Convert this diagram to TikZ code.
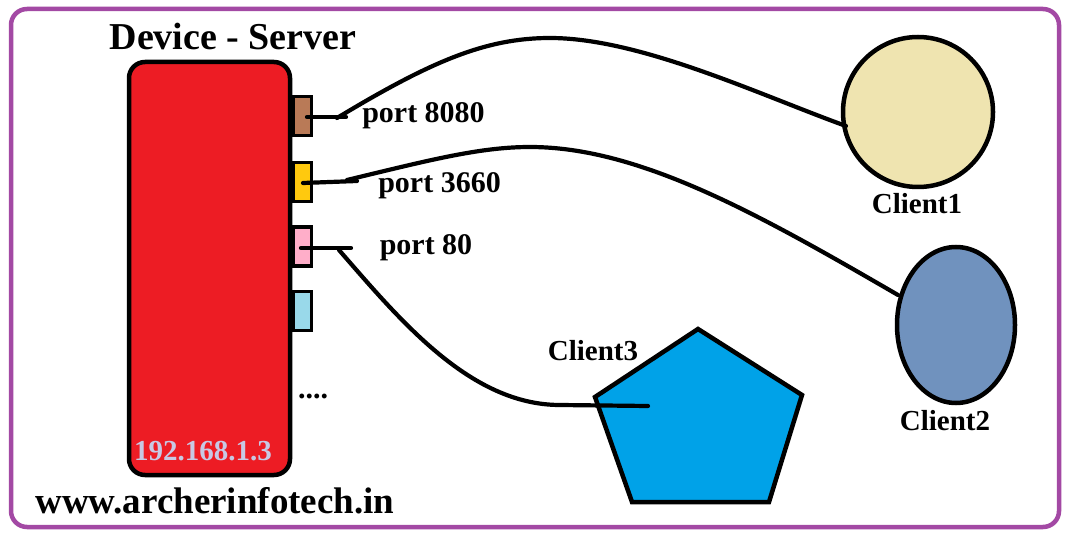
\documentclass[tikz,border=0pt]{standalone}
\usepackage{fontspec}
\setmainfont{Liberation Serif}
\usetikzlibrary{shapes.geometric}
\definecolor{frame}{HTML}{A349A4}
\definecolor{devred}{HTML}{ED1C24}
\definecolor{pbrown}{HTML}{B97A57}
\definecolor{pyellow}{HTML}{FFC90E}
\definecolor{ppink}{HTML}{FFAEC9}
\definecolor{pblue}{HTML}{99D9EA}
\definecolor{cream}{HTML}{EFE4B0}
\definecolor{bluegray}{HTML}{7092BE}
\definecolor{turq}{HTML}{00A2E8}
\definecolor{lav}{HTML}{C8C8E4}
\tikzset{
  lbl/.style={inner sep=0pt, text=black, font=\fontsize{#1}{#1}\selectfont\bfseries},
  portbox/.style={draw=black, line width=3.5pt, minimum width=18pt, minimum height=39pt, inner sep=0pt},
  wire/.style={draw=black, line width=4.2pt, line cap=round},
}
\begin{document}
\begin{tikzpicture}[x=1pt,y=-1pt]
\useasboundingbox (0,0) rectangle (1084,537);
\fill[white] (0,0) rectangle (1084,537);
% outer frame
\draw[frame, line width=4.5pt, rounded corners=16pt] (11,9) rectangle (1059,527);
% device
\node[draw=black, fill=devred, line width=4.5pt, rounded corners=16pt, minimum width=161pt, minimum height=413pt, inner sep=0pt] (dev) at (209.5,268.5) {};
\node[lbl=38] (title) at (233,37) {Device - Server};
\node[lbl=29, text=lav] (ip) at (203,451) {192.168.1.3};
\node[lbl=37] (www) at (215,501) {www.archerinfotech.in};
% ports
\node[portbox, fill=pbrown] (p1) at (302.5,116) {};
\node[portbox, fill=pyellow] (p2) at (302.5,182) {};
\node[portbox, fill=ppink] (p3) at (302.5,246.5) {};
\node[portbox, fill=pblue] (p4) at (302.5,311) {};
\node[lbl=30] (dots) at (313,396) {....};
\node[lbl=30] (l1) at (423.5,116) {port 8080};
\node[lbl=30] (l2) at (439.5,186) {port 3660};
\node[lbl=30] (l3) at (426,248) {port 80};
% clients
\node[draw=black, fill=cream, circle, line width=4.5pt, minimum size=150pt, inner sep=0pt] (c1) at (918,112) {};
\node[lbl=29] (c1l) at (917,204) {Client1};
\node[draw=black, fill=bluegray, ellipse, line width=4.5pt, minimum width=118pt, minimum height=156pt, inner sep=0pt] (c2) at (956,325) {};
\node[lbl=29] (c2l) at (945,421) {Client2};
\coordinate (v1) at (698,329);
\coordinate (v2) at (802,395);
\coordinate (v3) at (769,502);
\coordinate (v4) at (632,502);
\coordinate (v5) at (595,397);
\draw[black, fill=turq, line width=4.5pt, line join=miter] (v1) -- (v2) -- (v3) -- (v4) -- (v5) -- cycle;
\node[lbl=29] (c3l) at (593,351) {Client3};
% wire anchors
\coordinate (d1) at (307,117);
\coordinate (e1) at (346,117);
\coordinate (s1) at (337,118);
\coordinate (t1) at (846,126);
\coordinate (d2) at (303,183);
\coordinate (e2) at (357,181);
\coordinate (s2) at (347,180);
\coordinate (t2) at (898,295);
\coordinate (d3) at (301,248);
\coordinate (e3) at (351,248);
\coordinate (s3) at (339,250);
\coordinate (t3) at (648,406);
% wires
\draw[wire] (d1) -- (e1);
\draw[wire] (s1) .. controls (430,62) and (485,38) .. (550,38) .. controls (640,38) and (760,95) .. (t1);
\draw[wire] (d2) -- (e2);
\draw[wire] (s2) .. controls (430,160) and (480,147) .. (530,147) .. controls (640,147) and (760,215) .. (t2);
\draw[wire] (d3) -- (e3);
\draw[wire] (s3) .. controls (400,320) and (470,405) .. (560,405) -- (t3);
\end{tikzpicture}
\end{document}
